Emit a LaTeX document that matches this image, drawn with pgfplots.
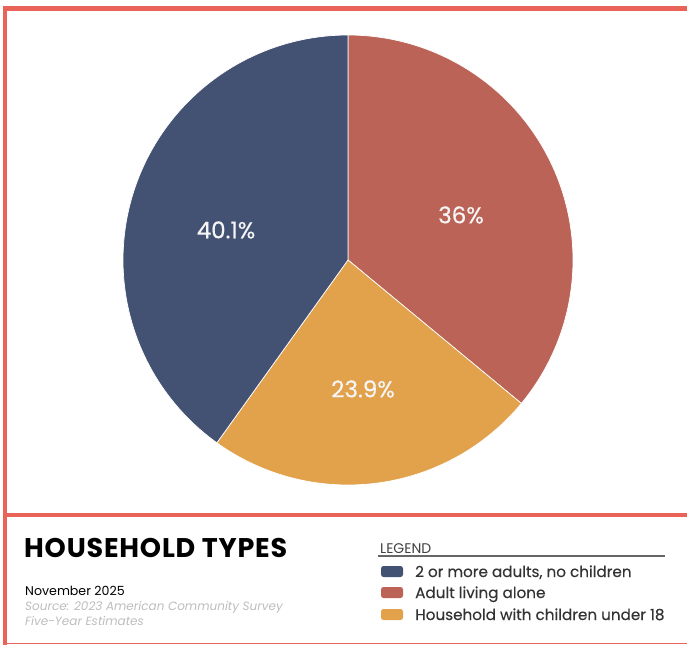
\documentclass[border=0pt]{standalone}
\usepackage{pgfplots}
\pgfplotsset{compat=1.18}
\usepackage{fontspec}
\setmainfont{Poppins}

\definecolor{bluec}{HTML}{435172}
\definecolor{redc}{HTML}{BC6357}
\definecolor{orangec}{HTML}{E2A14B}
\definecolor{framec}{HTML}{EA6359}
\definecolor{srcgray}{HTML}{BDBDBD}

% shares in percent, clockwise from the top
\def\pA{36}    % Adult living alone
\def\pB{23.9}  % Household with children under 18
\def\pC{40.1}  % 2 or more adults, no children

\begin{document}
\begin{tikzpicture}
\useasboundingbox (0,0) rectangle (687pt,645pt);
\begin{axis}[
    width=687pt, height=645pt, scale only axis,
    xmin=0, xmax=687, ymin=0, ymax=645,
    hide axis, clip=false,
]
% pie angles from the shares
\pgfmathsetmacro{\aA}{90-3.6*\pA}
\pgfmathsetmacro{\aB}{\aA-3.6*\pB}
\pgfmathsetmacro{\aC}{\aB-3.6*\pC}

\addplot[fill=redc, draw=white, line width=0.7pt, domain=\aA:90, samples=90]
    ({348+225*cos(x)},{385+225*sin(x)}) -- (axis cs:348,385) -- cycle;
\addplot[fill=orangec, draw=white, line width=0.7pt, domain=\aB:\aA, samples=60]
    ({348+225*cos(x)},{385+225*sin(x)}) -- (axis cs:348,385) -- cycle;
\addplot[fill=bluec, draw=white, line width=0.7pt, domain=\aC:\aB, samples=100]
    ({348+225*cos(x)},{385+225*sin(x)}) -- (axis cs:348,385) -- cycle;

% slice labels
\tikzset{plabel/.style={text=white!96!black, inner sep=0pt,
    font=\fontsize{23}{26}\selectfont\addfontfeature{FakeBold=0.5}}}
\node[plabel] at (axis cs:461,430) {36\%};
\node[plabel] at (axis cs:363,256) {23.9\%};
\node[plabel] at (axis cs:226,415) {40.1\%};

% frame
\draw[framec, line width=4pt] (axis cs:5,0) -- (axis cs:5,639);
\draw[framec, line width=5pt] (axis cs:3,636.5) -- (axis cs:687,636.5);
\draw[framec, line width=3.5pt] (axis cs:7,130) -- (axis cs:687,130);
\draw[framec, line width=1.5pt] (axis cs:7,1.5) -- (axis cs:687,1.5);

% title block
\node[anchor=base west, inner sep=0pt, font=\fontsize{27}{30}\selectfont\bfseries\addfontfeature{LetterSpace=3}]
    at (axis cs:24,88) {HOUSEHOLD TYPES};
\node[anchor=base west, inner sep=0pt, font=\fontsize{12.6}{14}\selectfont]
    at (axis cs:25,50) {November 2025};
\node[anchor=base west, inner sep=0pt, text=srcgray, font=\fontsize{12}{14}\selectfont\itshape]
    at (axis cs:25,35) {Source: 2023 American Community Survey};
\node[anchor=base west, inner sep=0pt, text=srcgray, font=\fontsize{12}{14}\selectfont\itshape]
    at (axis cs:25,20) {Five-Year Estimates};

% legend
\node[anchor=base west, inner sep=0pt, text=black!75, font=\fontsize{14}{16}\selectfont]
    at (axis cs:380,92) {LEGEND};
\draw[black!60, line width=1.3pt] (axis cs:378,89) -- (axis cs:665,89);
\fill[bluec, rounded corners=2.5pt] (axis cs:381,68) rectangle (axis cs:403,79);
\fill[redc, rounded corners=2.5pt] (axis cs:381,47) rectangle (axis cs:403,58);
\fill[orangec, rounded corners=2.5pt] (axis cs:381,25) rectangle (axis cs:403,36);
\tikzset{ltext/.style={anchor=base west, inner sep=0pt, text=black!80,
    font=\fontsize{15.2}{17}\selectfont\addfontfeature{FakeBold=0.3}}}
\node[ltext] at (axis cs:415,68) {2 or more adults, no children};
\node[ltext] at (axis cs:415,47) {Adult living alone};
\node[ltext] at (axis cs:415,25) {Household with children under 18};
\end{axis}
\end{tikzpicture}
\end{document}
